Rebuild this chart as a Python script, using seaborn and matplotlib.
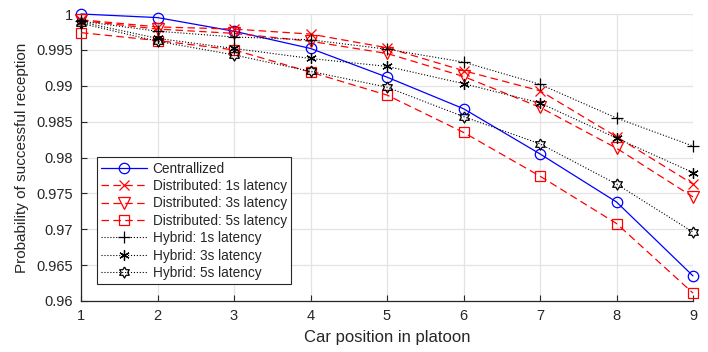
import numpy as np
import pandas as pd
import matplotlib
matplotlib.use("Agg")
import matplotlib.pyplot as plt
import seaborn as sns

positions = [1, 2, 3, 4, 5, 6, 7, 8, 9]
centralized = [1.0000, 0.9995, 0.9976, 0.9952, 0.9912, 0.9868, 0.9805, 0.9738, 0.9635]
dist_1s = [0.9992, 0.9982, 0.9979, 0.9972, 0.9953, 0.9921, 0.9893, 0.9829, 0.9763]
dist_3s = [0.9991, 0.9979, 0.9973, 0.9962, 0.9945, 0.9913, 0.9870, 0.9813, 0.9745]
dist_5s = [0.9974, 0.9963, 0.9950, 0.9919, 0.9887, 0.9835, 0.9774, 0.9708, 0.9611]
hyb_1s = [0.9990, 0.9976, 0.9968, 0.9964, 0.9951, 0.9933, 0.9902, 0.9855, 0.9816]
hyb_3s = [0.9989, 0.9966, 0.9952, 0.9938, 0.9927, 0.9903, 0.9876, 0.9827, 0.9779]
hyb_5s = [0.9987, 0.9962, 0.9943, 0.9920, 0.9898, 0.9857, 0.9819, 0.9763, 0.9696]

series_names = ["Centrallized",
                "Distributed: 1s latency", "Distributed: 3s latency", "Distributed: 5s latency",
                "Hybrid: 1s latency", "Hybrid: 3s latency", "Hybrid: 5s latency"]
series_values = [centralized, dist_1s, dist_3s, dist_5s, hyb_1s, hyb_3s, hyb_5s]

y_ticks = [0.96, 0.965, 0.97, 0.975, 0.98, 0.985, 0.99, 0.995, 1.0]
y_tick_labels = ["0.96", "0.965", "0.97", "0.975", "0.98", "0.985", "0.99", "0.995", "1"]

# six-pointed star outline used as a marker
ang_outer = np.deg2rad(90 + 60 * np.arange(6))
ang_inner = ang_outer + np.deg2rad(30)
r_in = 1 / np.sqrt(3)
hexagram = []
for ao, ai in zip(ang_outer, ang_inner):
    hexagram.append((np.cos(ao), np.sin(ao)))
    hexagram.append((r_in * np.cos(ai), r_in * np.sin(ai)))
hexagram.append(hexagram[0])

red = "#ff0000"
dash = (0, (6, 3.5))
styles = [
    dict(color="#0000ff", linestyle="-", marker="o", ms=7.5, lw=0.9),
    dict(color=red, linestyle=dash, marker="x", ms=7, lw=0.9),
    dict(color=red, linestyle=dash, marker="v", ms=8, lw=0.9),
    dict(color=red, linestyle=dash, marker="s", ms=7, lw=0.9),
    dict(color="black", linestyle=":", marker="+", ms=8.5, lw=0.8),
    dict(color="black", linestyle=":", marker=(6, 2, 0), ms=7.5, lw=0.8),
    dict(color="black", linestyle=":", marker=hexagram, ms=8, lw=0.8),
]

sns.set_theme(style="white")
plt.rcParams["font.family"] = ["Liberation Sans", "DejaVu Sans"]

fig = plt.figure(figsize=(7.08, 3.52), dpi=100)
ax = fig.add_axes([81 / 708, 1 - 301 / 352, 612 / 708, 287 / 352])

for name, vals, st in zip(series_names, series_values, styles):
    df = pd.DataFrame({"pos": positions, "p": vals})
    mk = st["marker"]
    filled_ok = mk in ("x", "+", (6, 2, 0))
    sns.lineplot(data=df, x="pos", y="p", ax=ax, label=name,
                 color=st["color"], linestyle=st["linestyle"], linewidth=st["lw"],
                 marker=mk, markersize=st["ms"],
                 markerfacecolor=st["color"] if filled_ok else "none",
                 markeredgecolor=st["color"], markeredgewidth=0.9,
                 clip_on=False, zorder=3)

ax.set_xlim(1, 9)
ax.set_ylim(0.96, 1.0)
ax.set_xticks(positions)
ax.set_xticklabels([str(p) for p in positions])
ax.set_yticks(y_ticks)
ax.set_yticklabels(y_tick_labels)
ax.grid(True, color="#e3e3e3", linewidth=0.9, zorder=0)
ax.set_axisbelow(True)

for side in ("top", "right"):
    ax.spines[side].set_visible(False)
for side in ("left", "bottom"):
    ax.spines[side].set_color("#262626")
    ax.spines[side].set_linewidth(0.9)

ax.tick_params(axis="both", direction="in", length=4, width=0.8, color="#262626",
               labelsize=10.5, labelcolor="#262626", pad=6,
               left=True, bottom=True)

ax.set_xlabel("Car position in platoon", fontsize=12, color="#262626", labelpad=5)
ax.set_ylabel("Probability of successful reception", fontsize=11, color="#262626", labelpad=5)

leg = ax.legend(loc="lower left", bbox_to_anchor=(0.026, 0.059), fontsize=9.8,
                frameon=True, fancybox=False, edgecolor="#262626", framealpha=1,
                handlelength=3.4, labelspacing=0.25, borderpad=0.3,
                handletextpad=0.4, borderaxespad=0)
leg.get_frame().set_linewidth(0.8)
for t in leg.get_texts():
    t.set_color("#262626")

fig.savefig("out.png", dpi=100)
